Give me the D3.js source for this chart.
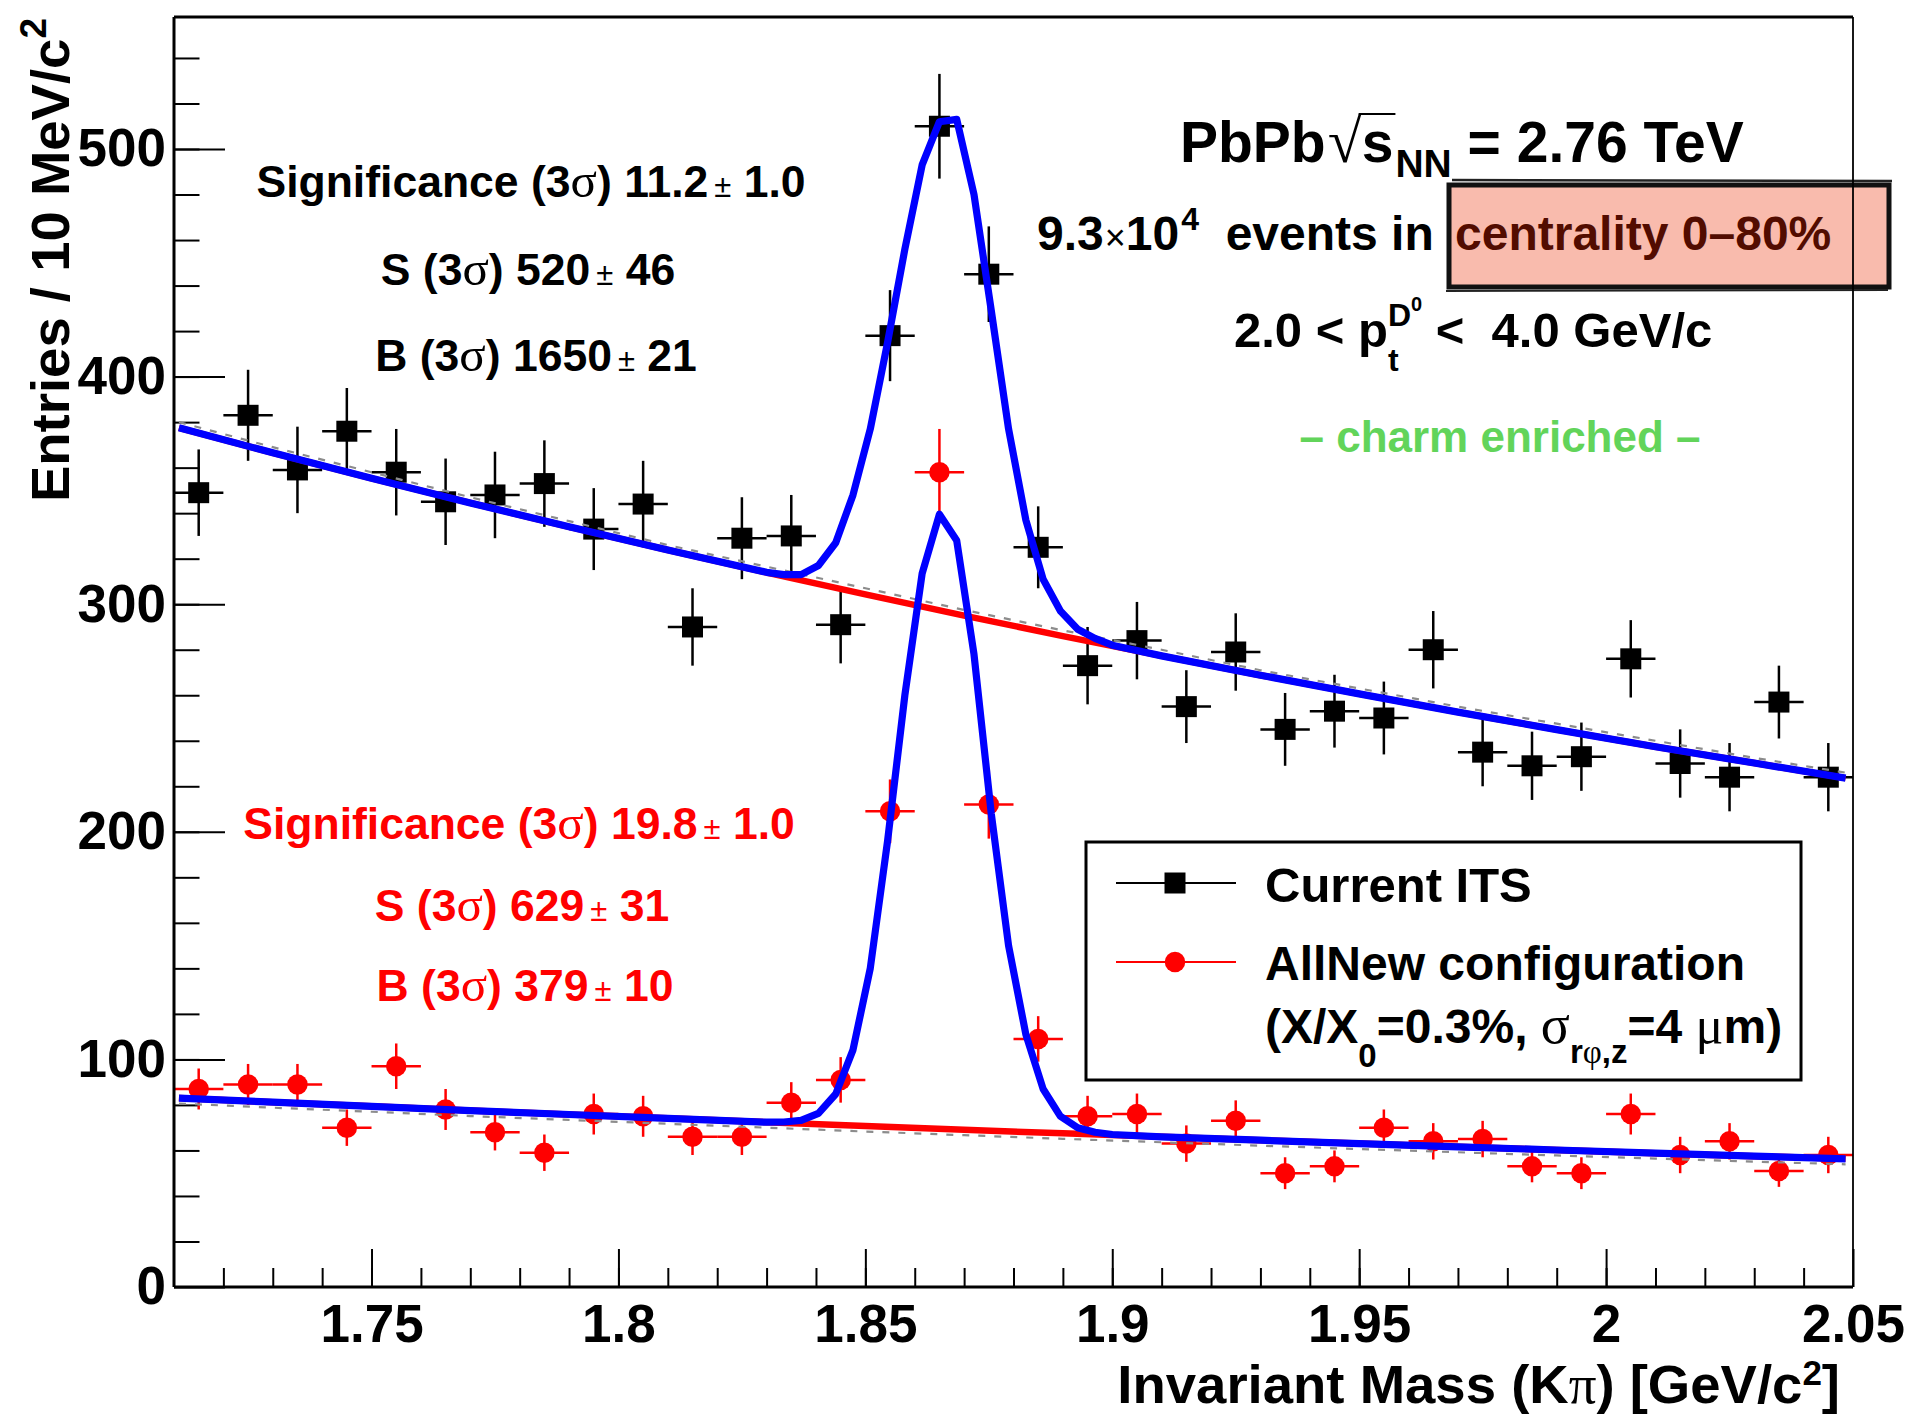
<!DOCTYPE html>
<html>
<head>
<meta charset="utf-8">
<script src="https://cdn.jsdelivr.net/npm/d3@7"></script>
<style>
  html, body { margin: 0; padding: 0; background: #fff; }
  svg text { white-space: pre; }
</style>
</head>
<body>
<div id="chart"></div>
<script>
// ---- data ----
const massBins = [1.715, 1.725, 1.735, 1.745, 1.755, 1.765, 1.775, 1.785, 1.795, 1.805,
                  1.815, 1.825, 1.835, 1.845, 1.855, 1.865, 1.875, 1.885, 1.895, 1.905,
                  1.915, 1.925, 1.935, 1.945, 1.955, 1.965, 1.975, 1.985, 1.995, 2.005,
                  2.015, 2.025, 2.035, 2.045];
const binHalfWidth = 0.005;

const currentITS    = [349, 383, 359, 376, 358, 345, 348, 353, 333, 344,
                       290, 329, 330, 291, 418, 510, 445, 325, 273, 284,
                       255, 279, 245, 253, 250, 280, 235, 229, 233, 276,
                       230, 224, 257, 224];
const currentITSErr = [19, 20, 19, 19, 19, 19, 19, 19, 18, 19,
                       17, 18, 18, 17, 20, 23, 21, 18, 17, 17,
                       16, 17, 16, 16, 16, 17, 15, 15, 15, 17,
                       15, 15, 16, 15];

const allNew    = [87, 89, 89, 70, 97, 78, 68, 59, 76, 75,
                   66, 66, 81, 91, 209, 358, 212, 109, 75, 76,
                   63, 73, 50, 53, 70, 64, 65, 53, 50, 76,
                   58, 64, 51, 58];
const allNewErr = [9, 9, 9, 8, 10, 9, 8, 8, 9, 9,
                   8, 8, 9, 10, 14, 19, 15, 10, 9, 9,
                   8, 9, 7, 7, 8, 8, 8, 7, 7, 9,
                   8, 8, 7, 8];

// fitted curves (signal + background), sampled where the drawn polyline bends
const fitX = [1.711, 1.73, 1.75, 1.77, 1.79, 1.81, 1.83,
              1.8335, 1.837, 1.8405, 1.844, 1.8475, 1.851, 1.8545, 1.858, 1.8615, 1.865,
              1.8685, 1.872, 1.8755, 1.879, 1.8825, 1.886, 1.8895, 1.893, 1.8965, 1.90,
              1.91, 1.93, 1.95, 1.97, 1.99, 2.01, 2.03, 2.0485];
const fitCurrentITS = [377.5, 366.5, 355.3, 344.5, 334.0, 323.8, 314,
                       313, 313, 317, 327, 348, 377, 415, 456, 493, 512,
                       513, 480, 429, 377, 337, 311, 297, 289, 285, 282,
                       277.3, 268.8, 260.6, 252.6, 244.9, 237.4, 230.2, 223.6];
const fitAllNew = [83.0, 81.2, 79.4, 77.5, 75.8, 74.1, 72.4,
                   72.5, 73.2, 76.3, 84.8, 104.2, 140.1, 196, 260, 313.5, 339.5,
                   328, 278, 208, 150, 111, 87, 75, 70, 68, 67,
                   66.0, 64.5, 63.0, 61.6, 60.2, 58.8, 57.5, 56.3];

// background-only curves (red) and sideband fits (grey dashed)
const bkgX = [1.711, 1.73, 1.75, 1.77, 1.79, 1.81, 1.83, 1.85, 1.87,
              1.89, 1.91, 1.93, 1.95, 1.97, 1.99, 2.01, 2.03, 2.0485];
const bkgCurrentITS  = [377.5, 366.5, 355.3, 344.5, 334.0, 323.8, 313.9, 304.3, 295.0,
                        286.0, 277.3, 268.8, 260.6, 252.6, 244.9, 237.4, 230.2, 223.6];
const sideCurrentITS = [380, 369, 358, 347, 336.5, 326, 316.5, 307, 297.5,
                        288.5, 280, 271, 263, 255, 247.5, 240, 232.5, 226];
const bkgAllNew  = [83.0, 81.2, 79.4, 77.5, 75.8, 74.1, 72.4, 70.7, 69.1,
                    67.5, 66.0, 64.5, 63.0, 61.6, 60.2, 58.8, 57.5, 56.3];
const sideAllNew = [80.6, 78.8, 77.0, 75.1, 73.4, 71.7, 70.0, 68.3, 66.7,
                    65.1, 63.6, 62.1, 60.6, 59.2, 57.8, 56.4, 55.1, 53.9];

const xTickValues = [1.75, 1.8, 1.85, 1.9, 1.95, 2.0, 2.05];
const xTickLabels = ['1.75', '1.8', '1.85', '1.9', '1.95', '2', '2.05'];
const yTickValues = [0, 100, 200, 300, 400, 500];
const yTickLabels = ['0', '100', '200', '300', '400', '500'];

// ---- layout ----
const W = 1907, H = 1416;
const frame = { left: 174, right: 1853, top: 17, bottom: 1287 };
const SANS = "'Liberation Sans', Arial, Helvetica, sans-serif";
const SERIF = "'Liberation Serif', 'Times New Roman', serif";

const x = d3.scaleLinear().domain([1.71, 2.05]).range([frame.left, frame.right]);
const y = d3.scaleLinear().domain([0, 558]).range([frame.bottom, frame.top]);

const svg = d3.select('#chart').append('svg')
    .attr('width', W).attr('height', H)
    .style('background', '#fff');

// text made of pieces (sub/superscripts, greek from a serif font)
function rich(parent, px, py, segs, o) {
    const g = parent.append('g');
    let cx = 0, lastStart = 0, maxX = 0;
    const parts = segs.map(s => {
        const start = s.back ? lastStart : cx + (s.pl || 0);
        const t = g.append('text')
            .attr('x', start)
            .attr('y', s.dy || 0)
            .style('font-family', s.fam || SANS)
            .style('font-weight', s.fw || 'bold')
            .style('font-size', (s.fs || o.fs) + 'px')
            .attr('fill', s.fill || o.fill || '#000')
            .text(s.t);
        const w = t.node().getComputedTextLength();
        lastStart = start;
        maxX = Math.max(maxX, start + w);
        cx = maxX;
        return { x0: start, x1: start + w };
    });
    const shift = o.anchor === 'middle' ? -maxX / 2 : o.anchor === 'end' ? -maxX : 0;
    g.attr('transform', `translate(${px + shift},${py})`);
    parts.forEach(p => { p.x0 += px + shift; p.x1 += px + shift; });
    return parts;
}

// centrality highlight box (sits behind its text)
svg.append('rect')
    .attr('x', 1449).attr('y', 185).attr('width', 440).attr('height', 102)
    .attr('fill', '#f9bbad')
    .attr('stroke', '#111').attr('stroke-width', 5);
svg.append('line')
    .attr('x1', 1452).attr('x2', 1892).attr('y1', 180).attr('y2', 181)
    .attr('stroke', '#222').attr('stroke-width', 2.5);
svg.append('line')
    .attr('x1', 1446).attr('x2', 1888).attr('y1', 291).attr('y2', 290)
    .attr('stroke', '#222').attr('stroke-width', 2);

// ---- axes ----
function styleAxis(g) {
    g.select('.domain').remove();
    g.selectAll('line').attr('stroke', '#000').attr('stroke-width', 2);
    g.selectAll('text')
        .style('font-family', SANS)
        .style('font-weight', 'bold')
        .style('font-size', '53px')
        .attr('fill', '#000');
}

const xMinor = d3.range(172, 205).map(d => d / 100);
svg.append('g')
    .attr('transform', `translate(0,${frame.bottom})`)
    .call(d3.axisBottom(x).tickValues(xMinor).tickFormat('').tickSizeInner(-19).tickSizeOuter(0))
    .call(styleAxis);
svg.append('g')
    .attr('transform', `translate(0,${frame.bottom})`)
    .call(d3.axisBottom(x).tickValues(xTickValues).tickFormat((d, i) => xTickLabels[i])
        .tickSizeInner(-38).tickSizeOuter(0).tickPadding(17))
    .call(styleAxis);

const yMinor = d3.range(20, 560, 20);
svg.append('g')
    .attr('transform', `translate(${frame.left},0)`)
    .call(d3.axisLeft(y).tickValues(yMinor).tickFormat('').tickSizeInner(-25.5).tickSizeOuter(0))
    .call(styleAxis);
svg.append('g')
    .attr('transform', `translate(${frame.left},0)`)
    .call(d3.axisLeft(y).tickValues(yTickValues).tickFormat((d, i) => yTickLabels[i])
        .tickSizeInner(-51).tickSizeOuter(0).tickPadding(8))
    .call(styleAxis);

// ---- data points with error bars ----
function drawSeries(vals, errs, color, symbolType, size) {
    const g = svg.append('g');
    const pts = massBins.map((m, i) => ({ m, v: vals[i], e: errs[i] }));
    g.selectAll('.ev').data(pts).enter().append('line')
        .attr('x1', d => x(d.m)).attr('x2', d => x(d.m))
        .attr('y1', d => y(d.v - d.e)).attr('y2', d => y(d.v + d.e))
        .attr('stroke', color).attr('stroke-width', 2.5);
    g.selectAll('.eh').data(pts).enter().append('line')
        .attr('x1', d => x(d.m - binHalfWidth)).attr('x2', d => x(d.m + binHalfWidth))
        .attr('y1', d => y(d.v)).attr('y2', d => y(d.v))
        .attr('stroke', color).attr('stroke-width', 2.5);
    g.selectAll('.mk').data(pts).enter().append('path')
        .attr('transform', d => `translate(${x(d.m)},${y(d.v)})`)
        .attr('d', d3.symbol().type(symbolType).size(size))
        .attr('fill', color);
}
drawSeries(currentITS, currentITSErr, '#000', d3.symbolSquare, 441);
drawSeries(allNew, allNewErr, '#ff0000', d3.symbolCircle, 330);

// ---- fit curves ----
const line = d3.line().x(d => x(d[0])).y(d => y(d[1]));
function drawCurve(xs, ys, color, width, dash) {
    svg.append('path')
        .datum(d3.zip(xs, ys))
        .attr('d', line)
        .attr('fill', 'none')
        .attr('stroke', color)
        .attr('stroke-width', width)
        .attr('stroke-linejoin', 'round')
        .attr('stroke-dasharray', dash || null);
}
drawCurve(bkgX, sideAllNew, '#8c8c8c', 2.2, '7,9');
drawCurve(bkgX, bkgCurrentITS, '#ff0000', 6.5);
drawCurve(bkgX, bkgAllNew, '#ff0000', 6.5);
drawCurve(bkgX, sideCurrentITS, '#8c8c8c', 2.2, '7,9');
drawCurve(fitX, fitCurrentITS, '#0000ff', 7.2);
drawCurve(fitX, fitAllNew, '#0000ff', 7.2);

// ---- frame ----
const fr = svg.append('g').attr('stroke', '#000');
fr.append('line').attr('x1', frame.left).attr('x2', frame.left)
    .attr('y1', frame.top).attr('y2', frame.bottom).attr('stroke-width', 3);
fr.append('line').attr('x1', frame.left).attr('x2', frame.right)
    .attr('y1', frame.bottom).attr('y2', frame.bottom).attr('stroke-width', 3);
fr.append('line').attr('x1', frame.left).attr('x2', frame.right)
    .attr('y1', frame.top).attr('y2', frame.top).attr('stroke-width', 3);
fr.append('line').attr('x1', frame.right).attr('x2', frame.right)
    .attr('y1', frame.top).attr('y2', frame.bottom).attr('stroke-width', 1.8);

// ---- legend ----
const leg = svg.append('g');
leg.append('rect').attr('x', 1086).attr('y', 842).attr('width', 715).attr('height', 238)
    .attr('fill', '#fff').attr('stroke', '#000').attr('stroke-width', 3);
leg.append('line').attr('x1', 1116).attr('x2', 1236).attr('y1', 883).attr('y2', 883)
    .attr('stroke', '#000').attr('stroke-width', 1.8);
leg.append('path').attr('transform', 'translate(1175,883)')
    .attr('d', d3.symbol().type(d3.symbolSquare).size(441)).attr('fill', '#000');
leg.append('line').attr('x1', 1116).attr('x2', 1236).attr('y1', 962).attr('y2', 962)
    .attr('stroke', '#ff0000').attr('stroke-width', 1.8);
leg.append('path').attr('transform', 'translate(1175,962)')
    .attr('d', d3.symbol().type(d3.symbolCircle).size(330)).attr('fill', '#ff0000');
rich(leg, 1265, 902, [{ t: 'Current ITS' }], { fs: 49 });
rich(leg, 1265, 980, [{ t: 'AllNew configuration' }], { fs: 48 });
rich(leg, 1265, 1043, [
    { t: '(X/X' }, { t: '0', fs: 33, dy: 24 }, { t: '=0.3%, ' },
    { t: 'σ', fam: SERIF, fw: 'normal', fs: 54 },
    { t: 'r', fs: 33, dy: 20 }, { t: 'φ', fs: 33, dy: 20, fam: SERIF, fw: 'normal' },
    { t: ',z', fs: 33, dy: 20 }, { t: '=4 ' },
    { t: 'μ', fam: SERIF, fw: 'normal', fs: 52 }, { t: 'm)' }
], { fs: 48 });

// ---- annotations ----
function sbLines(cx, ys, vals, color) {
    const labels = ['Significance (3', 'S (3', 'B (3'];
    labels.forEach((lab, k) => {
        rich(svg, cx[k], ys[k], [
            { t: lab }, { t: 'σ', fam: SERIF, fw: 'normal', fs: 49 },
            { t: ') ' + vals[2 * k] }, { t: '±', fw: 'normal', fs: 31, pl: 6 },
            { t: ' ' + vals[2 * k + 1] }
        ], { fs: 44.5, fill: color, anchor: 'middle' });
    });
}
sbLines([531, 528, 536], [197, 285, 371], ['11.2', '1.0', '520', '46', '1650', '21'], '#000');
sbLines([519, 522, 525], [839, 921, 1001], ['19.8', '1.0', '629', '31', '379', '10'], '#ff0000');

// collision system
const sys = rich(svg, 1180, 162, [
    { t: 'PbPb' }, { t: '√', fam: SERIF, fw: 'normal', fs: 62, pl: 2 },
    { t: 's' }, { t: 'NN', fs: 39, dy: 15, pl: 2 }, { t: ' = 2.76 TeV' }
], { fs: 57 });
svg.append('line')
    .attr('x1', sys[1].x1 - 3).attr('x2', sys[2].x1 + 2)
    .attr('y1', 114).attr('y2', 114)
    .attr('stroke', '#000').attr('stroke-width', 2);

rich(svg, 1037, 250, [
    { t: '9.3' }, { t: '×', fw: 'normal', fs: 36, pl: 1 }, { t: '10' },
    { t: '4', fs: 32, dy: -20, pl: 2 }, { t: '  events in ' },
    { t: 'centrality 0–80%', fill: '#520c00', pl: 8 }
], { fs: 48 });

rich(svg, 1234, 347, [
    { t: '2.0 < ' }, { t: 'p' },
    { t: 't', fs: 32, dy: 24 }, { t: 'D', fs: 32, dy: -21, back: true },
    { t: '0', fs: 20, dy: -36 }, { t: ' <  4.0 GeV/c' }
], { fs: 49 });

rich(svg, 1500, 452, [{ t: '– charm enriched –' }], { fs: 44, fill: '#62d45a', anchor: 'middle' });

// ---- axis titles ----
rich(svg, 1840, 1403, [
    { t: 'Invariant Mass (K' }, { t: 'π', fam: SERIF, fw: 'normal', fs: 55 },
    { t: ') [GeV/c' }, { t: '2', fs: 35, dy: -18 }, { t: ']' }
], { fs: 54.5, anchor: 'end' });

const yTitle = svg.append('g').attr('transform', 'translate(69,18) rotate(-90)');
rich(yTitle, 0, 0, [
    { t: 'Entries / 10 MeV/c' }, { t: '2', fs: 37, dy: -23 }
], { fs: 54.5, anchor: 'end' });
</script>
</body>
</html>
